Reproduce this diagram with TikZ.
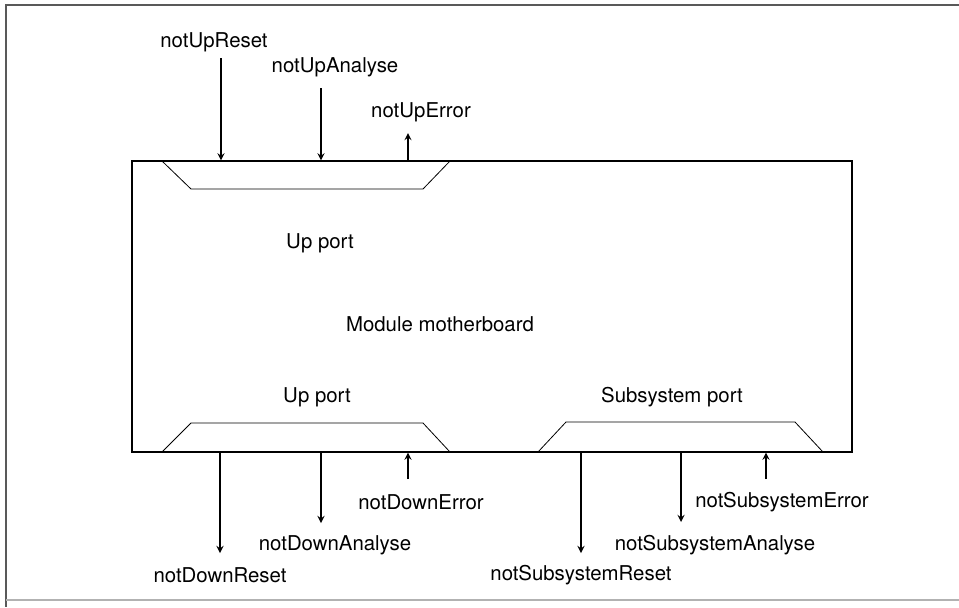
\documentclass[tikz,border=0pt]{standalone}
\usepackage{fontspec}
\setmainfont{TeX Gyre Heros}
\usepackage{tikz}
\usetikzlibrary{arrows,positioning}

\begin{document}
\begin{tikzpicture}[
    x=0.5pt, y=-0.5pt,
    lbl/.style={inner sep=1pt, font=\fontsize{10.2}{12}\selectfont},
    board/.style={rectangle, draw, semithick, inner sep=0pt,
                  minimum width=360pt, minimum height=145.5pt},
    port/.style={draw, thin},
    arrow/.style={->, >=stealth, semithick}
]
\useasboundingbox (0,0) rectangle (959,607);
% frame of the scan
\draw[gray!70!black, semithick] (959,5) -- (6,5) -- (6,607);
\draw[gray!60, semithick] (6,600) -- (959,600);

\node[board] (mb) at (492,306.5) {};
\node[lbl] (mbName) at (440,324) {Module motherboard};

% ports
\draw[port] (162,161) -- (191,189) -- (423,189) -- (450,161);
\draw[port] (162,452) -- (191,423) -- (423,423) -- (450,452);
\draw[port] (538,452) -- (566,422) -- (795,422) -- (823,452);
\node[lbl] (upPort) at (320,243) {Up port};
\node[lbl] (downPort) at (317,397) {Up port};
\node[lbl] (subPort) at (672,397) {Subsystem port};

% signal names
\node[lbl] (upReset) at (214,42) {notUpReset};
\node[lbl] (upAnalyse) at (335,67) {notUpAnalyse};
\node[lbl] (upError) at (421,112) {notUpError};
\node[lbl] (downReset) at (220,575) {notDownReset};
\node[lbl] (downAnalyse) at (335,545) {notDownAnalyse};
\node[lbl] (downError) at (421,502) {notDownError};
\node[lbl] (subReset) at (581,575) {notSubsystemReset};
\node[lbl] (subAnalyse) at (715,545) {notSubsystemAnalyse};
\node[lbl] (subError) at (782,502) {notSubsystemError};

% free ends of the signal lines
\coordinate (cUpReset) at (221,58);
\coordinate (cUpAnalyse) at (321,88);
\coordinate (cUpError) at (408,133);
\coordinate (cDownReset) at (220,553);
\coordinate (cDownAnalyse) at (321,523);
\coordinate (cDownError) at (408,479);
\coordinate (cSubReset) at (581,553);
\coordinate (cSubAnalyse) at (681,522);
\coordinate (cSubError) at (766,479);

\draw[arrow] (cUpReset) -- (cUpReset |- mb.north);
\draw[arrow] (cUpAnalyse) -- (cUpAnalyse |- mb.north);
\draw[arrow] (cUpError |- mb.north) -- (cUpError);
\draw[arrow] (cDownReset |- mb.south) -- (cDownReset);
\draw[arrow] (cDownAnalyse |- mb.south) -- (cDownAnalyse);
\draw[arrow] (cDownError) -- (cDownError |- mb.south);
\draw[arrow] (cSubReset |- mb.south) -- (cSubReset);
\draw[arrow] (cSubAnalyse |- mb.south) -- (cSubAnalyse);
\draw[arrow] (cSubError) -- (cSubError |- mb.south);
\end{tikzpicture}
\end{document}
